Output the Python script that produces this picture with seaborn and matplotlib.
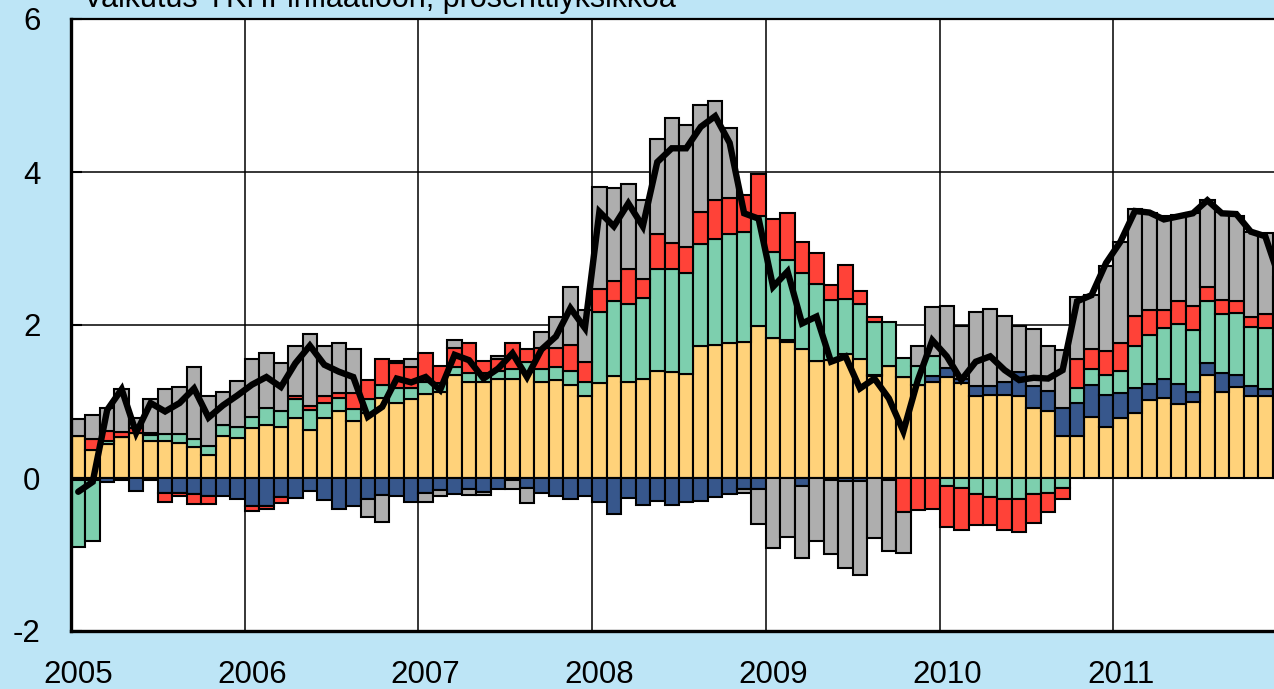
import numpy as np
import matplotlib
matplotlib.use("Agg")
import matplotlib.pyplot as plt
import seaborn as sns

# ---------------- data (monthly, Jan 2005 .. Dec 2011) ----------------
years = ["2005", "2006", "2007", "2008", "2009", "2010", "2011"]

yellow = [0.55, 0.36, 0.44, 0.53, 0.59, 0.49, 0.49, 0.46, 0.40, 0.30, 0.55, 0.52,
          0.65, 0.69, 0.67, 0.78, 0.63, 0.78, 0.87, 0.74, 0.85, 1.05, 0.98, 1.03,
          1.10, 1.12, 1.34, 1.26, 1.25, 1.29, 1.30, 1.38, 1.26, 1.28, 1.22, 1.07,
          1.24, 1.33, 1.26, 1.30, 1.40, 1.38, 1.36, 1.72, 1.74, 1.77, 1.78, 1.99,
          1.83, 1.78, 1.68, 1.53, 1.54, 1.62, 1.56, 1.33, 1.46, 1.32, 1.22, 1.26,
          1.32, 1.24, 1.07, 1.09, 1.09, 1.07, 0.92, 0.88, 0.55, 0.55, 0.80, 0.67,
          0.78, 0.85, 1.02, 1.05, 0.97, 1.00, 1.35, 1.12, 1.19, 1.07, 1.07, 1.05]

blue = [-0.03, -0.02, -0.05, -0.02, -0.17, -0.03, -0.20, -0.19, -0.21, -0.23, -0.23, -0.28,
        -0.37, -0.36, -0.25, -0.26, -0.17, -0.29, -0.41, -0.37, -0.28, -0.22, -0.24, -0.31,
        -0.20, -0.16, -0.21, -0.15, -0.18, -0.15, -0.03, -0.13, -0.19, -0.24, -0.28, -0.23,
        -0.32, -0.47, -0.26, -0.35, -0.30, -0.35, -0.31, -0.30, -0.25, -0.21, -0.14, -0.14,
        0.00, 0.03, -0.11, 0.00, -0.03, -0.04, -0.04, 0.02, 0.00, 0.00, 0.00, 0.07,
        0.12, 0.06, 0.13, 0.11, 0.16, 0.31, 0.28, 0.26, 0.37, 0.43, 0.42, 0.41,
        0.33, 0.32, 0.21, 0.24, 0.26, 0.12, 0.15, 0.25, 0.16, 0.13, 0.09, 0.08]

green = [-0.87, -0.80, 0.05, 0.00, 0.00, 0.07, 0.09, 0.12, 0.11, 0.12, 0.14, 0.15,
         0.15, 0.22, 0.21, 0.25, 0.26, 0.20, 0.18, 0.16, 0.18, 0.17, 0.20, 0.14,
         0.16, 0.12, 0.11, 0.11, 0.12, 0.11, 0.12, 0.14, 0.17, 0.17, 0.18, 0.19,
         0.93, 0.99, 1.01, 1.05, 1.33, 1.35, 1.32, 1.34, 1.38, 1.42, 1.43, 1.43,
         1.12, 1.04, 1.00, 1.01, 0.79, 0.72, 0.71, 0.69, 0.58, 0.25, 0.25, 0.26,
         -0.10, -0.13, -0.21, -0.25, -0.27, -0.27, -0.21, -0.20, -0.13, 0.19, 0.21, 0.27,
         0.29, 0.56, 0.64, 0.67, 0.78, 0.81, 0.81, 0.77, 0.81, 0.78, 0.80, 0.75]

red = [0.00, 0.15, 0.13, 0.07, 0.07, 0.03, -0.11, -0.05, -0.13, -0.11, 0.00, 0.00,
       -0.06, -0.04, -0.08, 0.04, 0.05, 0.09, 0.06, 0.21, 0.25, 0.33, 0.32, 0.28,
       0.38, 0.22, 0.25, 0.40, 0.16, 0.15, 0.34, 0.16, 0.27, 0.25, 0.34, 0.25,
       0.30, 0.26, 0.46, 0.25, 0.46, 0.34, 0.34, 0.42, 0.51, 0.47, 0.49, 0.56,
       0.44, 0.62, 0.41, 0.40, 0.19, 0.45, 0.17, 0.07, -0.03, -0.44, -0.42, -0.41,
       -0.54, -0.55, -0.40, -0.36, -0.41, -0.43, -0.38, -0.24, -0.14, 0.39, 0.26, 0.31,
       0.36, 0.39, 0.33, 0.24, 0.31, 0.32, 0.19, 0.19, 0.15, 0.13, 0.18, 0.15]

grey = [0.22, 0.31, 0.29, 0.56, 0.13, 0.44, 0.58, 0.61, 0.94, 0.65, 0.43, 0.60,
        0.76, 0.73, 0.62, 0.66, 0.94, 0.66, 0.66, 0.57, -0.23, -0.36, 0.03, 0.10,
        -0.11, -0.08, 0.11, -0.07, -0.04, 0.04, -0.12, -0.20, 0.21, 0.40, 0.76, 0.69,
        1.33, 1.21, 1.11, 1.03, 1.24, 1.63, 1.59, 1.40, 1.30, 0.91, -0.06, -0.46,
        -0.92, -0.77, -0.93, -0.83, -0.96, -1.14, -1.23, -0.79, -0.92, -0.54, 0.26, 0.64,
        0.81, 0.69, 0.97, 1.01, 0.87, 0.61, 0.75, 0.58, 0.75, 0.80, 0.70, 1.11,
        1.33, 1.40, 1.27, 1.22, 1.12, 1.21, 1.14, 1.15, 1.11, 1.10, 1.06, 0.60]

total = [-0.18, -0.05, 0.89, 1.16, 0.59, 0.98, 0.87, 0.98, 1.17, 0.79, 0.95, 1.08,
         1.22, 1.32, 1.19, 1.50, 1.73, 1.48, 1.39, 1.32, 0.80, 0.93, 1.30, 1.25,
         1.32, 1.15, 1.61, 1.54, 1.30, 1.43, 1.63, 1.32, 1.68, 1.85, 2.22, 1.96,
         3.48, 3.29, 3.59, 3.29, 4.13, 4.31, 4.31, 4.59, 4.73, 4.38, 3.46, 3.39,
         2.50, 2.70, 2.02, 2.11, 1.52, 1.59, 1.17, 1.30, 1.04, 0.61, 1.28, 1.80,
         1.59, 1.28, 1.52, 1.59, 1.41, 1.28, 1.31, 1.30, 1.41, 2.31, 2.39, 2.81,
         3.09, 3.49, 3.47, 3.38, 3.42, 3.46, 3.63, 3.46, 3.45, 3.22, 3.16, 2.60]

title = "Vaikutus YKHI-inflaatioon, prosenttiyksikköä"

components = [yellow, blue, green, red, grey]
colors = ["#FFD27A", "#37578C", "#7DCFAE", "#FF4238", "#AEAEAE"]

# ---------------- style ----------------
sns.set_theme(style="white")
plt.rcParams["font.family"] = ["Liberation Sans", "DejaVu Sans"]

W, H = 1274, 689
fig = plt.figure(figsize=(W / 100, H / 100), dpi=100)
fig.patch.set_facecolor("#BDE5F6")

ax_l, ax_r = 71, 71 + 84 * 14.476
ax_t, ax_b = 19, 631
ax = fig.add_axes([ax_l / W, 1 - ax_b / H, (ax_r - ax_l) / W, (ax_b - ax_t) / H])
ax.set_facecolor("white")

n = len(yellow)
x = np.arange(n) + 0.5
pos_base = np.zeros(n)
neg_base = np.zeros(n)
for vals, col in zip(components, colors):
    v = np.asarray(vals, dtype=float)
    bottom = np.where(v >= 0, pos_base, neg_base)
    ax.bar(x, v, width=1.0, bottom=bottom, color=col, edgecolor="black",
           linewidth=1.5, zorder=2)
    pos_base = pos_base + np.where(v > 0, v, 0)
    neg_base = neg_base + np.where(v < 0, v, 0)

sns.lineplot(x=x, y=total, ax=ax, color="black", linewidth=4.6, zorder=4,
             solid_joinstyle="miter")

ax.set_xlim(0, 84)
ax.set_ylim(-2, 6)

# grid at year boundaries and every 2 units
ax.set_xticks(np.arange(0, 85, 12))
ax.set_xticks(np.arange(len(years)) * 12 + 0.5, minor=True)
ax.set_xticklabels([], minor=False)
ax.set_xticklabels(years, minor=True)
ax.tick_params(axis="x", which="both", length=0, labelsize=22.5, pad=21,
               colors="black")
ax.set_yticks([-2, 0, 2, 4, 6])
ax.set_yticklabels(["-2", "0", "2", "4", "6"])
ax.tick_params(axis="y", direction="in", length=8, width=1.5, labelsize=22.5,
               pad=22, colors="black", left=True)
ax.set_axisbelow(True)
ax.grid(True, which="major", color="black", linewidth=1.1)
ax.grid(False, which="minor")

for side in ["left", "bottom"]:
    ax.spines[side].set_color("black")
    ax.spines[side].set_linewidth(2.4)
ax.spines["top"].set_color("black")
ax.spines["top"].set_linewidth(1.6)
ax.spines["right"].set_visible(False)

ax.set_xlabel("")
ax.set_ylabel("")

fig.text(83 / W, 1 - 7 / H, title, fontsize=22, va="baseline", ha="left",
         color="black")

fig.savefig("out.png", dpi=100, facecolor=fig.get_facecolor())
